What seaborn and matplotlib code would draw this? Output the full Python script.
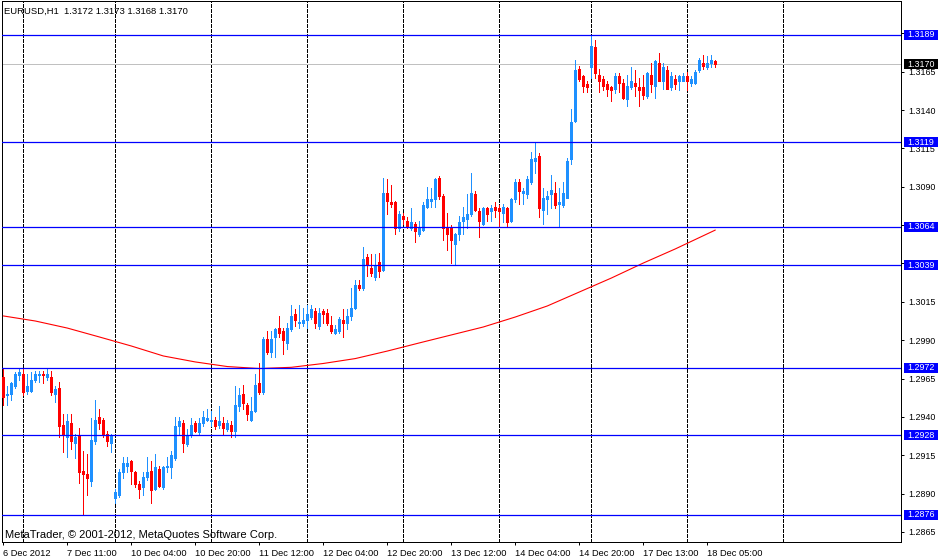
import numpy as np
import pandas as pd
import matplotlib
matplotlib.use("Agg")
import matplotlib.pyplot as plt
import seaborn as sns
from matplotlib.transforms import blended_transform_factory
from matplotlib.patches import Rectangle

sns.set_theme(style="white")
plt.rcParams['font.family'] = ['Liberation Sans', 'DejaVu Sans']

# ---------------- data (EURUSD H1, bar 0 = 6 Dec 2012 19:00) ----------------
opens = [1.2966, 1.2954, 1.2955, 1.2960, 1.2967, 1.2968, 1.2957, 1.2957, 1.2964, 1.2967,
         1.2968, 1.2966, 1.2966, 1.2955, 1.2959, 1.2935, 1.2927, 1.2936, 1.2923, 1.2928,
         1.2905, 1.2903, 1.2898, 1.2924, 1.2940, 1.2938, 1.2929, 1.2923, 1.2887, 1.2889,
         1.2904, 1.2908, 1.2911, 1.2904, 1.2896, 1.2894, 1.2901, 1.2905, 1.2893, 1.2906,
         1.2894, 1.2907, 1.2907, 1.2913, 1.2934, 1.2936, 1.2922, 1.2928, 1.2936, 1.2930,
         1.2936, 1.2938, 1.2937, 1.2938, 1.2935, 1.2936, 1.2932, 1.2935, 1.2931, 1.2947,
         1.2955, 1.2948, 1.2938, 1.2944, 1.2962, 1.2956, 1.2991, 1.2982, 1.2992, 1.2998,
         1.2996, 1.2988, 1.2997, 1.3007, 1.3001, 1.3001, 1.3003, 1.3005, 1.3009, 1.2999,
         1.3009, 1.3008, 1.3000, 1.2995, 1.2996, 1.3003, 1.3001, 1.3006, 1.3011, 1.3026,
         1.3024, 1.3044, 1.3037, 1.3031, 1.3041, 1.3036, 1.3086, 1.3080, 1.3080, 1.3063,
         1.3071, 1.3068, 1.3063, 1.3066, 1.3059, 1.3062, 1.3077, 1.3081, 1.3082, 1.3096,
         1.3084, 1.3063, 1.3064, 1.3053, 1.3059, 1.3068, 1.3069, 1.3072, 1.3085, 1.3074,
         1.3066, 1.3076, 1.3074, 1.3077, 1.3076, 1.3073, 1.3076, 1.3068, 1.3082, 1.3093,
         1.3086, 1.3085, 1.3093, 1.3107, 1.3110, 1.3075, 1.3082, 1.3085, 1.3086, 1.3079,
         1.3078, 1.3083, 1.3108, 1.3133, 1.3167, 1.3162, 1.3157, 1.3168, 1.3181, 1.3163,
         1.3160, 1.3157, 1.3155, 1.3154, 1.3162, 1.3158, 1.3147, 1.3155, 1.3158, 1.3155,
         1.3155, 1.3149, 1.3163, 1.3156, 1.3171, 1.3159, 1.3166, 1.3155, 1.3160, 1.3159,
         1.3159, 1.3162, 1.3158, 1.3158, 1.3166, 1.3171, 1.3168, 1.3171, 1.3172]
highs = [1.2972, 1.2960, 1.2963, 1.2969, 1.2971, 1.2972, 1.2968, 1.2969, 1.2970, 1.2970,
         1.2970, 1.2971, 1.2970, 1.2960, 1.2963, 1.2942, 1.2942, 1.2942, 1.2929, 1.2933,
         1.2918, 1.2916, 1.2939, 1.2951, 1.2945, 1.2939, 1.2931, 1.2929, 1.2893, 1.2906,
         1.2914, 1.2914, 1.2912, 1.2905, 1.2898, 1.2904, 1.2914, 1.2911, 1.2916, 1.2908,
         1.2908, 1.2914, 1.2918, 1.2940, 1.2940, 1.2938, 1.2932, 1.2939, 1.2937, 1.2939,
         1.2944, 1.2945, 1.2944, 1.2940, 1.2947, 1.2940, 1.2938, 1.2937, 1.2960, 1.2959,
         1.2961, 1.2949, 1.2953, 1.2968, 1.2975, 1.2992, 1.2996, 1.2996, 1.2998, 1.3006,
         1.2998, 1.3001, 1.3013, 1.3010, 1.3013, 1.3011, 1.3013, 1.3013, 1.3011, 1.3011,
         1.3010, 1.3010, 1.3006, 1.3000, 1.3005, 1.3010, 1.3010, 1.3024, 1.3029, 1.3029,
         1.3051, 1.3046, 1.3046, 1.3046, 1.3047, 1.3096, 1.3095, 1.3091, 1.3081, 1.3074,
         1.3073, 1.3070, 1.3076, 1.3067, 1.3068, 1.3080, 1.3090, 1.3089, 1.3096, 1.3097,
         1.3085, 1.3073, 1.3065, 1.3060, 1.3071, 1.3077, 1.3085, 1.3099, 1.3087, 1.3076,
         1.3077, 1.3077, 1.3078, 1.3080, 1.3078, 1.3079, 1.3077, 1.3083, 1.3095, 1.3095,
         1.3089, 1.3097, 1.3113, 1.3119, 1.3112, 1.3089, 1.3087, 1.3098, 1.3093, 1.3089,
         1.3093, 1.3109, 1.3141, 1.3173, 1.3169, 1.3163, 1.3159, 1.3189, 1.3186, 1.3167,
         1.3162, 1.3159, 1.3156, 1.3164, 1.3164, 1.3160, 1.3163, 1.3168, 1.3166, 1.3161,
         1.3163, 1.3165, 1.3171, 1.3173, 1.3177, 1.3171, 1.3169, 1.3165, 1.3163, 1.3163,
         1.3164, 1.3165, 1.3162, 1.3166, 1.3174, 1.3176, 1.3175, 1.3176, 1.3173]
lows = [1.2948, 1.2948, 1.2951, 1.2959, 1.2964, 1.2954, 1.2955, 1.2956, 1.2963, 1.2963,
        1.2962, 1.2964, 1.2954, 1.2950, 1.2927, 1.2917, 1.2914, 1.2919, 1.2913, 1.2897,
        1.2876, 1.2889, 1.2895, 1.2922, 1.2932, 1.2927, 1.2921, 1.2917, 1.2884, 1.2888,
        1.2900, 1.2904, 1.2896, 1.2894, 1.2887, 1.2889, 1.2899, 1.2884, 1.2892, 1.2894,
        1.2893, 1.2904, 1.2900, 1.2912, 1.2928, 1.2917, 1.2921, 1.2927, 1.2930, 1.2929,
        1.2934, 1.2937, 1.2934, 1.2932, 1.2933, 1.2928, 1.2931, 1.2927, 1.2927, 1.2944,
        1.2945, 1.2938, 1.2937, 1.2943, 1.2955, 1.2955, 1.2981, 1.2979, 1.2979, 1.2992,
        1.2981, 1.2984, 1.2996, 1.2999, 1.2998, 1.2999, 1.2998, 1.3004, 1.2998, 1.2997,
        1.3001, 1.3000, 1.2995, 1.2994, 1.2995, 1.2992, 1.2997, 1.3003, 1.3010, 1.3023,
        1.3023, 1.3032, 1.3032, 1.3029, 1.3031, 1.3035, 1.3072, 1.3077, 1.3059, 1.3061,
        1.3066, 1.3063, 1.3062, 1.3054, 1.3058, 1.3061, 1.3076, 1.3077, 1.3077, 1.3082,
        1.3055, 1.3049, 1.3040, 1.3039, 1.3055, 1.3059, 1.3063, 1.3071, 1.3074, 1.3057,
        1.3065, 1.3068, 1.3068, 1.3070, 1.3064, 1.3067, 1.3064, 1.3067, 1.3080, 1.3079,
        1.3079, 1.3083, 1.3092, 1.3099, 1.3070, 1.3066, 1.3072, 1.3076, 1.3076, 1.3064,
        1.3077, 1.3083, 1.3105, 1.3132, 1.3159, 1.3152, 1.3152, 1.3161, 1.3161, 1.3152,
        1.3153, 1.3149, 1.3146, 1.3151, 1.3152, 1.3147, 1.3143, 1.3154, 1.3149, 1.3143,
        1.3147, 1.3148, 1.3152, 1.3148, 1.3159, 1.3154, 1.3154, 1.3153, 1.3154, 1.3153,
        1.3159, 1.3153, 1.3156, 1.3157, 1.3165, 1.3167, 1.3167, 1.3168, 1.3168]
closes = [1.2953, 1.2955, 1.2962, 1.2968, 1.2969, 1.2956, 1.2960, 1.2964, 1.2968, 1.2968,
          1.2967, 1.2968, 1.2956, 1.2958, 1.2934, 1.2928, 1.2937, 1.2924, 1.2927, 1.2904,
          1.2903, 1.2900, 1.2925, 1.2938, 1.2936, 1.2928, 1.2924, 1.2928, 1.2891, 1.2904,
          1.2910, 1.2910, 1.2905, 1.2896, 1.2893, 1.2901, 1.2904, 1.2892, 1.2907, 1.2895,
          1.2907, 1.2908, 1.2915, 1.2934, 1.2937, 1.2923, 1.2928, 1.2935, 1.2931, 1.2936,
          1.2940, 1.2939, 1.2938, 1.2934, 1.2937, 1.2933, 1.2936, 1.2931, 1.2948, 1.2954,
          1.2949, 1.2942, 1.2944, 1.2961, 1.2956, 1.2991, 1.2982, 1.2991, 1.2997, 1.2995,
          1.2990, 1.2998, 1.3006, 1.3003, 1.3002, 1.3003, 1.3007, 1.3010, 1.3001, 1.3008,
          1.3007, 1.3001, 1.2996, 1.2997, 1.3004, 1.3001, 1.3006, 1.3011, 1.3026, 1.3024,
          1.3043, 1.3039, 1.3034, 1.3039, 1.3035, 1.3086, 1.3081, 1.3079, 1.3063, 1.3072,
          1.3069, 1.3064, 1.3067, 1.3061, 1.3063, 1.3078, 1.3082, 1.3082, 1.3095, 1.3084,
          1.3063, 1.3059, 1.3055, 1.3059, 1.3067, 1.3070, 1.3072, 1.3086, 1.3075, 1.3068,
          1.3076, 1.3072, 1.3076, 1.3075, 1.3074, 1.3077, 1.3067, 1.3082, 1.3093, 1.3087,
          1.3087, 1.3095, 1.3108, 1.3109, 1.3076, 1.3083, 1.3084, 1.3088, 1.3078, 1.3080,
          1.3086, 1.3107, 1.3132, 1.3166, 1.3160, 1.3156, 1.3155, 1.3182, 1.3164, 1.3159,
          1.3156, 1.3154, 1.3153, 1.3162, 1.3158, 1.3148, 1.3156, 1.3159, 1.3156, 1.3153,
          1.3150, 1.3164, 1.3157, 1.3172, 1.3159, 1.3168, 1.3154, 1.3162, 1.3157, 1.3162,
          1.3162, 1.3159, 1.3160, 1.3165, 1.3173, 1.3169, 1.3171, 1.3173, 1.3170]

# moving average (read every 8 bars)
ma_bars = [0, 8, 16, 24, 32, 40, 48, 56, 64, 72, 80, 88, 96, 104, 112, 120,
           128, 136, 144, 152, 160, 168, 178]
ma_vals = [1.30058, 1.30025, 1.29979, 1.29921, 1.29862, 1.29797, 1.29758, 1.29728,
           1.29715, 1.29723, 1.29748, 1.29780, 1.29829, 1.29882, 1.29934, 1.29986,
           1.30051, 1.30123, 1.30214, 1.30305, 1.30403, 1.30495, 1.30618]

levels = [1.3189, 1.3119, 1.3064, 1.3039, 1.2972, 1.2928, 1.2876]
bid = 1.3170
ytick_vals = [1.2865, 1.2890, 1.2915, 1.2940, 1.2965, 1.2990, 1.3015, 1.3040,
              1.3065, 1.3090, 1.3115, 1.3140, 1.3165, 1.3190]
xtick_bars = [0, 16, 32, 48, 64, 80, 96, 112, 128, 144, 160, 176]
xtick_labels = ["6 Dec 2012", "7 Dec 11:00", "10 Dec 04:00", "10 Dec 20:00",
                "11 Dec 12:00", "12 Dec 04:00", "12 Dec 20:00", "13 Dec 12:00",
                "14 Dec 04:00", "14 Dec 20:00", "17 Dec 13:00", "18 Dec 05:00"]
day_start_bars = [5, 28, 52, 76, 100, 124, 147, 171, 195]
title_text = "EURUSD,H1  1.3172 1.3173 1.3168 1.3170"
footer_text = "MetaTrader, \u00a9 2001-2012, MetaQuotes Software Corp."

# ---------------- layout ----------------
W, H = 939, 559
PX = 0.72  # points per pixel at dpi 100
BLUE_UP = '#1e90ff'
RED_DN = '#ff0000'
LEVEL = '#0000ff'

fig = plt.figure(figsize=(W / 100, H / 100), dpi=100)
fig.patch.set_facecolor('white')
Lp, Rp, Tp, Bp = 2, 901, 1, 542
ax = fig.add_axes([Lp / W, 1 - Bp / H, (Rp - Lp) / W, (Bp - Tp) / H])
ax.set_facecolor('white')

x0, bar_px = 3.3, 4.0
ax.set_xlim((Lp - x0) / bar_px, (Rp - x0) / bar_px)
ppx = 0.00006521  # price per pixel
ax.set_ylim(1.3189 - (Bp - 35) * ppx, 1.3189 + (35 - Tp) * ppx)

df = pd.DataFrame({'open': opens, 'high': highs, 'low': lows, 'close': closes})
df['bar'] = np.arange(len(df))
up = df['close'] >= df['open']
cols = np.where(up, BLUE_UP, RED_DN)

# day grid
for b in day_start_bars:
    ax.axvline(b, color='black', lw=PX, ls=(0, (4, 2)), zorder=1, antialiased=False)

# bid line
ax.axhline(bid, color='#c0c0c0', lw=PX, zorder=2, antialiased=False)

# moving average
ma_df = pd.DataFrame({'bar': ma_bars, 'ma': ma_vals})
sns.lineplot(data=ma_df, x='bar', y='ma', color='#ff0000', lw=0.8, ax=ax, zorder=3)

# candles
ax.vlines(df['bar'], df['low'], df['high'], colors=cols, lw=PX, zorder=4, antialiased=False)
ax.bar(df['bar'], (df['close'] - df['open']).abs(), bottom=np.minimum(df['open'], df['close']),
       width=0.5, color=cols, edgecolor=cols, linewidth=PX, zorder=5, antialiased=False)

# horizontal levels
for lv in levels:
    ax.axhline(lv, color=LEVEL, lw=0.9, zorder=6)

# axes styling
for s in ax.spines.values():
    s.set_color('black')
    s.set_linewidth(PX)
ax.yaxis.tick_right()
ax.set_yticks(ytick_vals)
ax.set_yticklabels([f"{v:.4f}" for v in ytick_vals])
ax.set_xticks(xtick_bars)
ax.set_xticklabels(xtick_labels)
for lab in ax.get_xticklabels():
    lab.set_ha('left')
ax.tick_params(axis='y', which='both', direction='out', length=2.5, width=PX,
               pad=2.5, labelsize=6.4, colors='black', right=True, left=False)
ax.tick_params(axis='x', which='both', direction='out', length=2.5, width=PX,
               pad=2.2, labelsize=6.7, colors='black', bottom=True)
ax.set_xlabel('')
ax.set_ylabel('')
ax.grid(False)

# price label boxes on the right axis
blend = blended_transform_factory(ax.transAxes, ax.transData)
bx0 = (904 - Lp) / (Rp - Lp)
bw = 34 / (Rp - Lp)
bh = 10 * ppx
tx = (907.5 - Lp) / (Rp - Lp)
for lv, fc in [(v, LEVEL) for v in levels] + [(bid, 'black')]:
    ax.add_patch(Rectangle((bx0, lv - bh / 2), bw, bh, transform=blend, facecolor=fc,
                           edgecolor='none', clip_on=False, zorder=10))
    ax.text(tx, lv, f"{lv:.4f}", transform=blend, color='white', fontsize=6.4,
            ha='left', va='center', clip_on=False, zorder=11)

# texts
fig.text(4 / W, 1 - 14 / H, title_text, fontsize=6.8, color='black', ha='left', va='baseline')
fig.text(5 / W, 1 - 537.5 / H, footer_text, fontsize=8.0, color='black', ha='left', va='baseline')

fig.savefig('out.png', dpi=100, facecolor='white')
